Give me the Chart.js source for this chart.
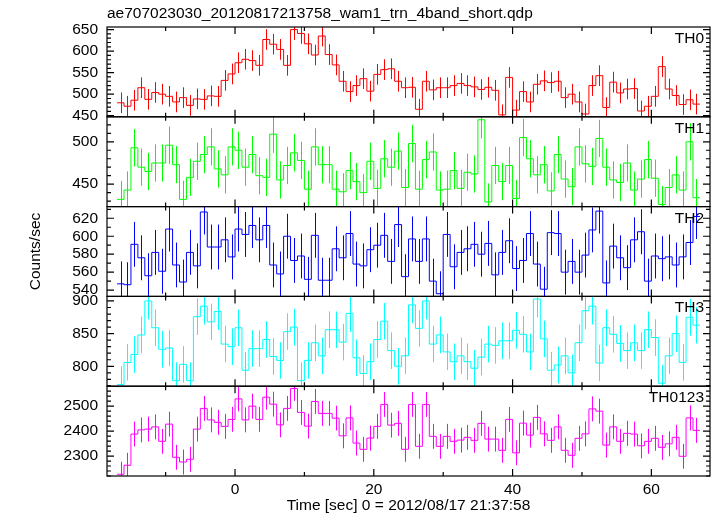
<!DOCTYPE html>
<html>
<head>
<meta charset="utf-8">
<script src="https://cdn.jsdelivr.net/npm/chart.js@4.4.0/dist/chart.umd.min.js"></script>
<style>
  html, body { margin: 0; padding: 0; background: #fff; }
  #wrap { width: 717px; height: 516px; }
</style>
</head>
<body>
<div id="wrap"><canvas id="lcChart" width="717" height="516"></canvas></div>
<script>
// light curve data, 1 s bins starting at t = -17 s
const fileTitle = 'ae707023030_20120817213758_wam1_trn_4band_short.qdp';
const xTitle = 'Time [sec] 0 = 2012/08/17 21:37:58';
const yTitle = 'Counts/sec';
const tStart = -17;
const binWidth = 1;

const panelNames = ['TH0', 'TH1', 'TH2', 'TH3', 'TH0123'];
const panelColors = ['#ff0000', '#00ff00', '#0000ff', '#00ffff', '#ff00ff'];

const th0 = [480,472,486,515,488,504,500,495,482,492,
  474,489,488,496,495,532,547,573,581,578,
  567,627,616,604,567,650,641,617,591,635,
  592,568,530,506,520,536,507,546,557,559,
  530,515,516,465,530,510,515,515,520,525,
  520,517,511,516,509,452,539,463,506,482,
  523,531,527,530,492,500,482,454,520,543,
  469,528,503,512,513,461,472,495,564,512,
  497,476,487,477];
const th1 = [432,443,493,470,465,475,475,496,473,432,
  458,477,485,494,468,461,494,490,470,485,
  460,458,509,455,472,487,478,444,494,473,
  473,444,441,466,453,440,477,445,480,470,
  489,446,498,444,479,488,443,444,466,445,
  464,462,526,429,472,453,472,433,505,480,
  461,473,442,485,456,447,494,474,471,504,
  470,455,452,475,443,456,479,457,426,446,
  461,443,500,434];
const th2 = [547,546,591,576,556,582,561,608,568,549,
  582,567,627,588,588,596,577,608,602,612,
  596,612,568,558,600,573,578,552,601,551,
  551,586,576,603,569,567,585,590,601,572,
  613,555,597,572,597,550,536,602,566,582,
  586,591,580,592,557,582,595,564,573,603,
  569,541,604,603,560,572,560,579,607,628,
  548,589,576,565,596,605,550,578,575,577,
  568,577,593,622];
const th3 = [772,806,818,848,900,859,826,828,778,803,
  778,876,892,868,884,834,830,859,794,827,
  827,841,815,809,853,860,778,809,836,816,
  856,856,837,881,813,789,807,841,869,824,
  800,816,894,858,900,834,848,822,807,816,
  807,797,814,834,832,839,839,855,849,822,
  903,842,794,802,816,790,836,885,892,805,
  859,849,835,824,836,824,856,844,774,816,
  850,806,875,863];
const th0123 = [2227,2263,2388,2405,2408,2417,2359,2428,2295,2276,
  2287,2408,2491,2445,2435,2419,2447,2529,2445,2500,
  2447,2536,2508,2425,2491,2571,2475,2420,2519,2471,
  2471,2452,2381,2453,2352,2327,2372,2419,2507,2424,
  2431,2327,2507,2339,2507,2379,2339,2379,2359,2364,
  2375,2363,2431,2368,2368,2323,2447,2313,2432,2384,
  2455,2389,2363,2417,2323,2303,2371,2389,2489,2480,
  2344,2417,2359,2391,2388,2341,2359,2371,2335,2349,
  2375,2299,2453,2403];

// 1-sigma errors per panel
const panelErrors = [24, 22, 25, 28, 50];
const panelRanges = [[447.5, 656], [423.5, 529.5], [533, 633], [769.5, 907], [2220, 2580]];
const panelTicks = [[450, 500, 550, 600, 650], [450, 500], [540, 560, 580, 600, 620], [800, 850, 900], [2300, 2400, 2500]];
const panelMinor = [10, 10, 10, 10, 20];
const xTicks = [0, 20, 40, 60];
const xMinor = 10;
const xRange = [-18.45, 68.45];

const series = [th0, th1, th2, th3, th0123];
const fontFamily = '"Liberation Sans", Helvetica, Arial, sans-serif';
const fontSize = 15.5;

// frames, inward ticks, error bars and texts in the qdp style
const qdpPlugin = {
    id: 'qdpPlugin',
    afterDatasetsDraw(chart) {
        const ctx = chart.ctx;
        const xs = chart.scales.x;
        const area = chart.chartArea;
        chart.data.datasets.forEach(ds => {
            const ys = chart.scales[ds.yAxisID];
            ctx.save();
            ctx.beginPath();
            ctx.rect(area.left, ys.top, area.right - area.left, ys.bottom - ys.top);
            ctx.clip();
            ctx.strokeStyle = ds.borderColor;
            ctx.lineWidth = 1;
            ctx.beginPath();
            ds.values.forEach((v, i) => {
                const px = Math.round(xs.getPixelForValue(tStart + (i + 0.5) * binWidth)) + 0.5;
                ctx.moveTo(px, ys.getPixelForValue(v + ds.err));
                ctx.lineTo(px, ys.getPixelForValue(v - ds.err));
            });
            ctx.stroke();
            ctx.restore();
        });
    },
    afterDraw(chart) {
        const ctx = chart.ctx;
        const xs = chart.scales.x;
        const area = chart.chartArea;
        ctx.save();
        ctx.strokeStyle = '#000';
        ctx.lineWidth = 1.2;
        panelNames.forEach((name, k) => {
            const ys = chart.scales['y' + k];
            ctx.strokeRect(area.left, ys.top, area.right - area.left, ys.bottom - ys.top);
            ctx.beginPath();
            // x ticks top and bottom of every panel
            for (let v = Math.ceil(xRange[0] / xMinor) * xMinor; v <= xRange[1]; v += xMinor) {
                const px = xs.getPixelForValue(v);
                const len = (v % 20 === 0) ? 7 : 4;
                ctx.moveTo(px, ys.top); ctx.lineTo(px, ys.top + len);
                ctx.moveTo(px, ys.bottom); ctx.lineTo(px, ys.bottom - len);
            }
            // y ticks left and right
            const major = panelTicks[k][1] - panelTicks[k][0];
            const step = panelMinor[k];
            for (let v = Math.ceil(ys.min / step) * step; v <= ys.max; v += step) {
                const py = ys.getPixelForValue(v);
                const len = (Math.abs(v % major) < 1e-6) ? 7 : 4;
                ctx.moveTo(area.left, py); ctx.lineTo(area.left + len, py);
                ctx.moveTo(area.right, py); ctx.lineTo(area.right - len, py);
            }
            ctx.stroke();
            // panel label
            ctx.fillStyle = '#000';
            ctx.font = fontSize + 'px ' + fontFamily;
            ctx.textAlign = 'right';
            ctx.textBaseline = 'alphabetic';
            ctx.fillText(name, area.right - 6, ys.top + 16);
        });
        ctx.fillStyle = '#000';
        ctx.font = fontSize + 'px ' + fontFamily;
        ctx.textAlign = 'left';
        ctx.textBaseline = 'alphabetic';
        ctx.fillText(fileTitle, area.left, 18);
        ctx.textAlign = 'center';
        ctx.fillText(xTitle, (area.left + area.right) / 2, 510);
        ctx.translate(40, (area.top + area.bottom) / 2);
        ctx.rotate(-Math.PI / 2);
        ctx.fillText(yTitle, 0, 0);
        ctx.restore();
    }
};

const plainLabel = v => String(v);

const scales = {
    x: {
        type: 'linear',
        position: 'bottom',
        min: xRange[0],
        max: xRange[1],
        afterBuildTicks: s => { s.ticks = xTicks.map(v => ({ value: v })); },
        afterFit: s => { s.height = 40; },
        grid: { display: false, drawTicks: false },
        border: { display: false },
        ticks: { color: '#000', font: { size: fontSize, family: fontFamily }, padding: 4, maxRotation: 0, autoSkip: false, callback: plainLabel }
    }
};
panelNames.forEach((name, k) => {
    scales['y' + k] = {
        type: 'linear',
        position: 'left',
        stack: 'panels',
        stackWeight: 1,
        weight: panelNames.length - k,
        min: panelRanges[k][0],
        max: panelRanges[k][1],
        afterBuildTicks: s => { s.ticks = panelTicks[k].map(v => ({ value: v })); },
        afterFit: s => { s.width = 107; },
        grid: { display: false, drawTicks: false },
        border: { display: false },
        ticks: { color: '#000', font: { size: fontSize, family: fontFamily }, padding: 9, autoSkip: false, callback: plainLabel }
    };
});

const datasets = series.map((vals, k) => ({
    label: panelNames[k],
    data: vals.map((v, i) => ({ x: tStart + i * binWidth, y: v }))
        .concat([{ x: tStart + vals.length * binWidth, y: vals[vals.length - 1] }]),
    yAxisID: 'y' + k,
    borderColor: panelColors[k],
    borderWidth: 1,
    pointRadius: 0,
    stepped: 'before',
    fill: false,
    values: vals,
    err: panelErrors[k]
}));

const ctx = document.getElementById('lcChart').getContext('2d');
const lcChart = new Chart(ctx, {
    type: 'line',
    data: { datasets: datasets },
    options: {
        responsive: false,
        animation: false,
        devicePixelRatio: 1,
        layout: { padding: { top: 27, right: 7, bottom: 0, left: 0 } },
        plugins: { legend: { display: false }, title: { display: false }, tooltip: { enabled: false } },
        scales: scales
    },
    plugins: [qdpPlugin]
});
</script>
</body>
</html>
